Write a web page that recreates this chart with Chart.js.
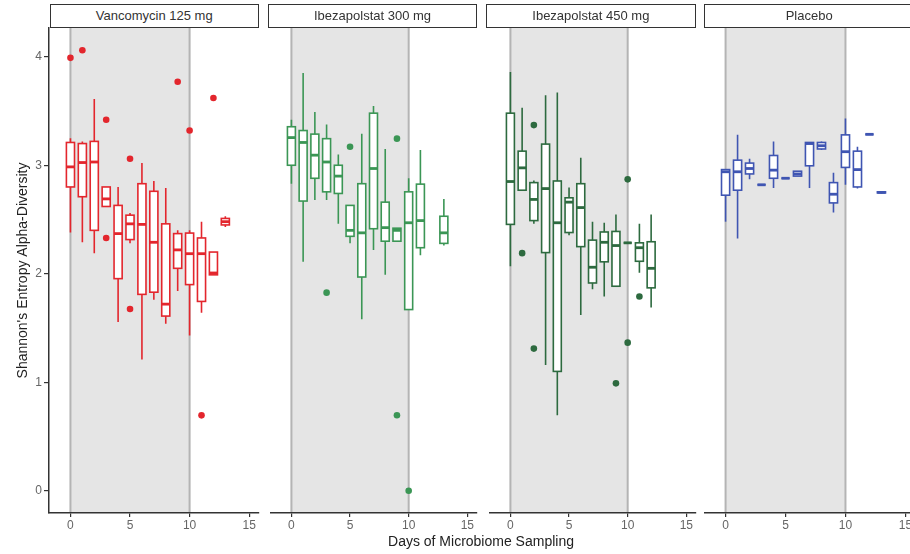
<!DOCTYPE html>
<html>
<head>
<meta charset="utf-8">
<script src="https://cdn.jsdelivr.net/npm/chart.js@4.4.1/dist/chart.umd.min.js"></script>
<style>
  html, body { margin: 0; padding: 0; background: #fff; }
  body { width: 910px; height: 554px; overflow: hidden; position: relative; font-family: "Liberation Sans", Arial, sans-serif; }
  .panel { position: absolute; top: 0; height: 554px; }
  .strip {
    position: absolute; top: 4px; height: 23.5px; width: 209.5px; box-sizing: border-box;
    border: 1.5px solid #333; background: #fff; color: #333; font-size: 13px;
    line-height: 22.5px; text-align: center; white-space: nowrap; overflow: hidden;
  }
  #xtitle { position: absolute; left: 0; width: 962px; top: 533px; text-align: center; font-size: 14px; color: #222; line-height: 17px; }
</style>
</head>
<body>
<div class="panel" style="left:0;width:262px"><canvas id="c1"></canvas></div>
<div class="panel" style="left:267.3px;width:213px"><canvas id="c2"></canvas></div>
<div class="panel" style="left:485.6px;width:213px"><canvas id="c3"></canvas></div>
<div class="panel" style="left:703.9px;width:213px"><canvas id="c4"></canvas></div>
<div class="strip" style="left:49.5px">Vancomycin 125 mg</div>
<div class="strip" style="left:267.8px">Ibezapolstat 300 mg</div>
<div class="strip" style="left:486.1px">Ibezapolstat 450 mg</div>
<div class="strip" style="left:704.4px">Placebo</div>
<div id="xtitle">Days of Microbiome Sampling</div>
<script>
// tick labels and dosing window
const dayTicks = [0, 5, 10, 15];
const diversityTicks = [0, 1, 2, 3, 4];
const dosingDays = [0, 10];

// boxplot stats per day: [lower whisker, Q1, median, Q3, upper whisker]
const vancoDays = [0, 1, 2, 3, 4, 5, 6, 7, 8, 9, 10, 11, 12, 13];
const vancoStats = [
  [2.38, 2.80, 2.985, 3.21, 3.25],
  [2.29, 2.71, 3.025, 3.20, 3.22],
  [2.19, 2.40, 3.03, 3.22, 3.61],
  [2.62, 2.62, 2.69, 2.80, 2.80],
  [1.555, 1.955, 2.37, 2.63, 2.80],
  [2.28, 2.315, 2.46, 2.54, 2.56],
  [1.21, 1.81, 2.455, 2.83, 3.02],
  [1.76, 1.83, 2.29, 2.76, 2.855],
  [1.54, 1.61, 1.72, 2.46, 2.79],
  [1.84, 2.05, 2.22, 2.37, 2.40],
  [1.43, 1.90, 2.185, 2.375, 2.40],
  [1.64, 1.745, 2.185, 2.33, 2.48],
  [1.99, 1.99, 2.007, 2.20, 2.20],
  [2.43, 2.45, 2.48, 2.51, 2.53]
];
const vancoOutDays = [0, 1, 3, 3, 5, 5, 9, 10, 11, 12];
const vancoOutVals = [3.99, 4.06, 3.42, 2.33, 3.06, 1.675, 3.77, 3.32, 0.695, 3.62];

const ibz300Days = [0, 1, 2, 3, 4, 5, 6, 7, 8, 9, 10, 11, 13];
const ibz300Stats = [
  [2.83, 3.00, 3.255, 3.355, 3.42],
  [2.11, 2.67, 3.21, 3.32, 3.85],
  [2.68, 2.88, 3.093, 3.287, 3.49],
  [2.68, 2.755, 3.03, 3.245, 3.376],
  [2.46, 2.74, 2.90, 3.00, 3.10],
  [2.28, 2.345, 2.40, 2.63, 2.63],
  [1.58, 1.97, 2.377, 2.83, 3.29],
  [2.22, 2.415, 2.97, 3.48, 3.545],
  [1.99, 2.30, 2.425, 2.66, 3.15],
  [2.30, 2.30, 2.40, 2.42, 2.42],
  [1.67, 1.67, 2.47, 2.755, 2.88],
  [2.17, 2.24, 2.49, 2.826, 3.14],
  [2.26, 2.28, 2.377, 2.53, 2.69]
];
const ibz300OutDays = [3, 5, 9, 9, 10];
const ibz300OutVals = [1.826, 3.17, 3.245, 0.696, 0.0];

const ibz450Days = [0, 1, 2, 3, 4, 5, 6, 7, 8, 9, 10, 11, 12];
const ibz450Stats = [
  [2.07, 2.455, 2.85, 3.48, 3.86],
  [2.77, 2.77, 2.976, 3.13, 3.53],
  [2.46, 2.49, 2.685, 2.84, 2.86],
  [1.16, 2.195, 2.785, 3.195, 3.645],
  [0.695, 1.10, 2.47, 2.855, 3.67],
  [2.355, 2.38, 2.66, 2.70, 2.795],
  [1.62, 2.25, 2.61, 2.83, 3.07],
  [1.857, 1.915, 2.06, 2.31, 2.48],
  [1.79, 2.11, 2.29, 2.385, 2.47],
  [1.885, 1.885, 2.26, 2.39, 2.545],
  [2.285, 2.285, 2.285, 2.285, 2.285],
  [2.01, 2.115, 2.24, 2.285, 2.46],
  [1.69, 1.87, 2.05, 2.295, 2.545]
];
const ibz450OutDays = [1, 2, 2, 9, 10, 10, 11];
const ibz450OutVals = [2.19, 3.37, 1.31, 0.99, 2.87, 1.365, 1.79];

const placeboDays = [0, 1, 2, 3, 4, 5, 6, 7, 8, 9, 10, 11, 12, 13];
const placeboStats = [
  [2.48, 2.724, 2.94, 2.96, 2.96],
  [2.325, 2.77, 2.94, 3.047, 3.28],
  [2.87, 2.92, 2.97, 3.02, 3.06],
  [2.82, 2.82, 2.82, 2.82, 2.82],
  [2.79, 2.88, 2.955, 3.09, 3.22],
  [2.88, 2.88, 2.88, 2.88, 2.88],
  [2.90, 2.90, 2.92, 2.945, 2.945],
  [2.79, 2.995, 3.20, 3.21, 3.21],
  [3.14, 3.15, 3.18, 3.21, 3.22],
  [2.565, 2.653, 2.733, 2.84, 2.93],
  [2.82, 2.98, 3.125, 3.28, 3.43],
  [2.785, 2.80, 2.96, 3.13, 3.17],
  [3.285, 3.285, 3.285, 3.285, 3.285],
  [2.74, 2.745, 2.75, 2.755, 2.76]
];
const placeboOutDays = [];
const placeboOutVals = [];

Chart.defaults.font.family = '"Liberation Sans", Arial, sans-serif';

const panels = [
  { canvas: 'c1', color: '#e3262d', days: vancoDays, stats: vancoStats, outDays: vancoOutDays, outVals: vancoOutVals },
  { canvas: 'c2', color: '#3b9655', days: ibz300Days, stats: ibz300Stats, outDays: ibz300OutDays, outVals: ibz300OutVals },
  { canvas: 'c3', color: '#2d6a3f', days: ibz450Days, stats: ibz450Stats, outDays: ibz450OutDays, outVals: ibz450OutVals },
  { canvas: 'c4', color: '#3f55b2', days: placeboDays, stats: placeboStats, outDays: placeboOutDays, outVals: placeboOutVals }
];

// grey dosing window with its two vertical lines
const dosingShade = {
  id: 'dosingShade',
  beforeDraw(chart) {
    const { ctx, chartArea: a, scales: { x } } = chart;
    const x0 = x.getPixelForValue(dosingDays[0]);
    const x1 = x.getPixelForValue(dosingDays[1]);
    ctx.save();
    ctx.fillStyle = '#e5e5e5';
    ctx.fillRect(x0, a.top, x1 - x0, a.bottom - a.top);
    ctx.strokeStyle = '#b4b4b4';
    ctx.lineWidth = 2;
    [x0, x1].forEach(px => {
      ctx.beginPath();
      ctx.moveTo(px, a.top);
      ctx.lineTo(px, a.bottom);
      ctx.stroke();
    });
    ctx.restore();
  }
};

function boxplots(p) {
  return {
    id: 'boxplots',
    beforeDatasetsDraw(chart) {
      const { ctx, scales: { x, y } } = chart;
      ctx.save();
      ctx.strokeStyle = p.color;
      p.days.forEach((d, i) => {
        const [lo, q1, med, q3, hi] = p.stats[i];
        const xc = x.getPixelForValue(d);
        const hw = x.getPixelForValue(d + 0.34) - xc;
        const yt = y.getPixelForValue(q3);
        const yb = y.getPixelForValue(q1);
        ctx.lineWidth = 1.6;
        ctx.beginPath();
        ctx.moveTo(xc, y.getPixelForValue(hi));
        ctx.lineTo(xc, yt);
        ctx.moveTo(xc, yb);
        ctx.lineTo(xc, y.getPixelForValue(lo));
        ctx.stroke();
        ctx.fillStyle = '#fff';
        ctx.fillRect(xc - hw, yt, 2 * hw, yb - yt);
        ctx.strokeRect(xc - hw, yt, 2 * hw, yb - yt);
        const ym = y.getPixelForValue(med);
        ctx.lineWidth = 2.8;
        ctx.beginPath();
        ctx.moveTo(xc - hw, ym);
        ctx.lineTo(xc + hw, ym);
        ctx.stroke();
      });
      ctx.restore();
    }
  };
}

panels.forEach((p, k) => {
  const first = k === 0;
  new Chart(document.getElementById(p.canvas), {
    type: 'scatter',
    data: {
      datasets: [{
        data: p.outDays.map((d, i) => ({ x: d, y: p.outVals[i] })),
        backgroundColor: p.color,
        borderWidth: 0,
        pointRadius: 3.3,
        pointHoverRadius: 3.3
      }]
    },
    options: {
      responsive: true,
      maintainAspectRatio: false,
      animation: false,
      events: [],
      layout: { padding: { left: 0, right: 2, top: 28, bottom: 0 } },
      plugins: { legend: { display: false }, tooltip: { enabled: false } },
      scales: {
        x: {
          type: 'linear',
          min: -1.8,
          max: 15.8,
          afterBuildTicks: s => { s.ticks = dayTicks.map(v => ({ value: v })); },
          afterFit: s => { s.height = 41; },
          grid: { drawOnChartArea: false, drawTicks: true, tickLength: 4, color: '#333', lineWidth: 1.2 },
          border: { display: true, color: '#333', width: 1.5 },
          ticks: { color: '#666', font: { size: 12 }, padding: 1, maxRotation: 0, autoSkip: false }
        },
        y: {
          display: first,
          min: -0.205,
          max: 4.265,
          afterBuildTicks: s => { s.ticks = diversityTicks.map(v => ({ value: v })); },
          afterFit: s => { s.width = first ? 49 : 0; },
          grid: { drawOnChartArea: false, drawTicks: true, tickLength: 5, color: '#333', lineWidth: 1.2 },
          border: { display: true, color: '#333', width: 1.5 },
          ticks: { color: '#666', font: { size: 12 }, padding: 2 },
          title: {
            display: true,
            text: "Shannon's Entropy Alpha-Diversity",
            color: '#222',
            font: { size: 14 },
            padding: { top: 14.5, bottom: 0 }
          }
        }
      }
    },
    plugins: [dosingShade, boxplots(p)]
  });
});
</script>
</body>
</html>
